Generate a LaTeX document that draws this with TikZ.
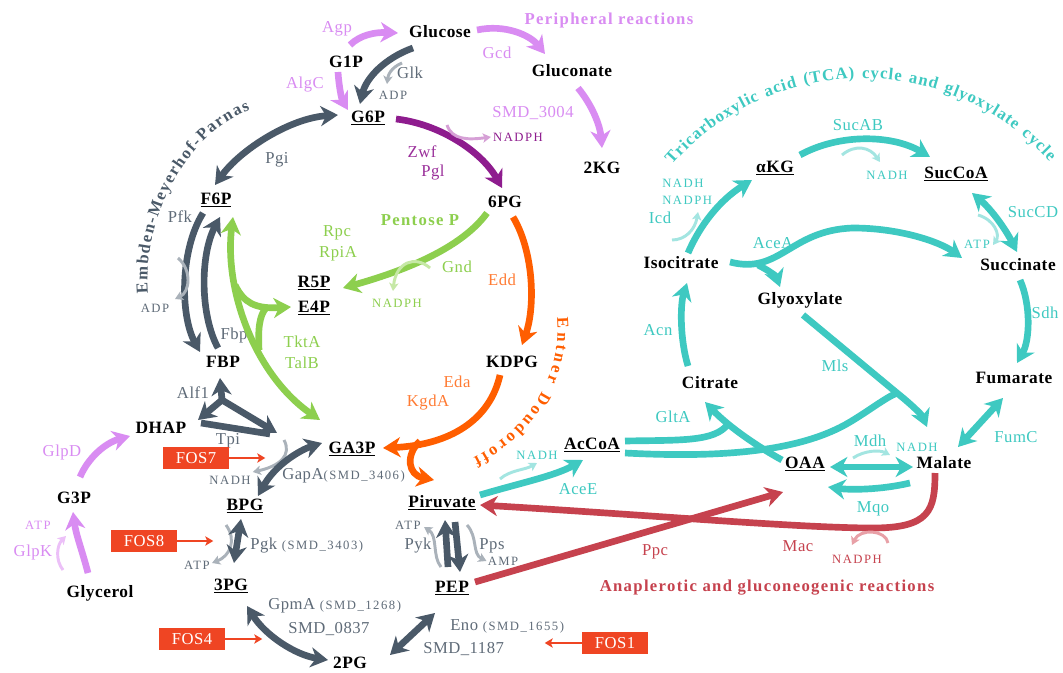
\documentclass[tikz,border=0pt]{standalone}
\usepackage{fontspec}
\setmainfont{Liberation Serif}
\newfontfamily\fmet[LetterSpace=3]{Liberation Serif}
\newfontfamily\fsm[LetterSpace=12]{Liberation Serif}
\newfontfamily\fttl[LetterSpace=8]{Liberation Serif}
\newcommand{\smfont}{\fsm\fontsize{9.5}{11}\selectfont}
\usetikzlibrary{arrows.meta,calc,decorations.text}
\definecolor{eg}{HTML}{4A5968}
\definecolor{egt}{HTML}{5F6B78}
\definecolor{egl}{HTML}{AAB2BA}
\definecolor{pl}{HTML}{D98CF2}
\definecolor{plf}{HTML}{ECC0F8}
\definecolor{dp}{HTML}{8E1C8E}
\definecolor{dpt}{HTML}{9A2E9A}
\definecolor{dpf}{HTML}{D6A0D6}
\definecolor{gr}{HTML}{8DCF4E}
\definecolor{grf}{HTML}{C6E8A6}
\definecolor{orr}{HTML}{FF5E00}
\definecolor{ort}{HTML}{FF7B33}
\definecolor{tl}{HTML}{3EC9C1}
\definecolor{tlf}{HTML}{A3E5E1}
\definecolor{rd}{HTML}{C6424E}
\definecolor{rdf}{HTML}{E8A0A7}
\definecolor{fos}{HTML}{EF4523}
\begin{document}
\begin{tikzpicture}[x=0.75pt,y=-0.75pt,
  met/.style={font=\fmet\fontsize{13}{15}\selectfont\bfseries, inner sep=0pt, text=black},
  enz/.style={font=\fmet\fontsize{12.5}{14}\selectfont, inner sep=0pt},
  sml/.style={font=\smfont, inner sep=0pt},
  ttl/.style={font=\fttl\fontsize{12.5}{14}\selectfont\bfseries, inner sep=0pt},
  arr/.style={line width=5pt, -{Stealth[length=13pt,width=15pt,inset=4pt]}},
  arrb/.style={line width=5pt, {Stealth[length=13pt,width=15pt,inset=4pt]}-{Stealth[length=13pt,width=15pt,inset=4pt]}},
  shaft/.style={line width=5pt},
  cof/.style={line width=2.2pt, -{Stealth[length=6pt,width=7pt,inset=1.5pt]}},
  fosbox/.style={fill=fos, text=white, font=\fmet\fontsize{12.5}{14}\selectfont, minimum width=49.5pt, minimum height=17pt, inner sep=0pt},
  fosarr/.style={draw=fos, line width=2.2pt, -{Stealth[length=6pt,width=7pt,inset=1.5pt]}}
]
\fill[white] (0,0) rectangle (1063,673);
\useasboundingbox (0,0) rectangle (1063,673);

% ---------- metabolites ----------
\node[met] (Glucose) at (440,32) {Glucose};
\node[met] (G1P) at (346,62) {G1P};
\node[met] (G6P) at (368,118) {\underline{G6P}};
\node[met] (Gluconate) at (572,71) {Gluconate};
\node[met] (KG2) at (602,168) {2KG};
\node[met] (PG6) at (505,202) {6PG};
\node[met] (F6P) at (216,200) {\underline{F6P}};
\node[met] (R5P) at (314,283) {\underline{R5P}};
\node[met] (E4P) at (314,308) {\underline{E4P}};
\node[met] (FBP) at (223,362) {FBP};
\node[met] (KDPG) at (512,362) {KDPG};
\node[met] (DHAP) at (161,428) {DHAP};
\node[met] (GA3P) at (352,449) {\underline{GA3P}};
\node[met] (G3P) at (74,498) {G3P};
\node[met] (BPG) at (245,506) {\underline{BPG}};
\node[met] (Pir) at (442,503) {\underline{Piruvate}};
\node[met] (AcCoA) at (592,445) {\underline{AcCoA}};
\node[met] (PG3) at (231,586) {\underline{3PG}};
\node[met] (PEP) at (452,588) {\underline{PEP}};
\node[met] (PG2) at (350,663) {2PG};
\node[met] (Glycerol) at (100,593) {Glycerol};
\node[met] (aKG) at (775,168) {\underline{αKG}};
\node[met] (SucCoA) at (956,174) {\underline{SucCoA}};
\node[met] (Isocitrate) at (681,263) {Isocitrate};
\node[met] (Succinate) at (1018,265) {Succinate};
\node[met] (Glyoxylate) at (800,300) {Glyoxylate};
\node[met] (Citrate) at (710,383) {Citrate};
\node[met] (Fumarate) at (1014,378) {Fumarate};
\node[met] (OAA) at (805,464) {\underline{OAA}};
\node[met] (Malate) at (944,463) {Malate};

% ---------- labels ----------
\node[enz,text=pl] (lAgp) at (337,29) {Agp};
\node[enz,text=pl] (lAlgC) at (305,85) {AlgC};
\node[enz,text=egt] (lGlk) at (410,73) {Glk};
\node[sml,text=egt] (cADP1) at (393,95) {ADP};
\node[enz,text=pl] (lGcd) at (497,53) {Gcd};
\node[enz,text=pl] (lSMD3004) at (533,113) {SMD\_3004};
\node[sml,text=dp] (cNADPH1) at (518,137) {NADPH};
\node[enz,text=dpt] (lZwf) at (422,152) {Zwf};
\node[enz,text=dpt] (lPgl) at (433,173) {Pgl};
\node[ttl,text=pl] (tPer) at (609,20) {Peripheral reactions};
\node[enz,text=egt] (lPgi) at (277,160) {Pgi};
\node[enz,text=egt] (lPfk) at (180,217) {Pfk};
\node[sml,text=egt] (cADP2) at (155,308) {ADP};
\node[enz,text=egt] (lFbp) at (234,335) {Fbp};
\node[enz,text=gr] (lRpc) at (337,233) {Rpc};
\node[enz,text=gr] (lRpiA) at (338,254) {RpiA};
\node[ttl,text=gr] (tPen) at (420,220) {Pentose P};
\node[enz,text=gr] (lGnd) at (457,267) {Gnd};
\node[sml,text=gr] (cNADPH2) at (397,303) {NADPH};
\node[enz,text=gr] (lTktA) at (302,342) {TktA};
\node[enz,text=gr] (lTalB) at (302,363) {TalB};
\node[enz,text=ort] (lEdd) at (502,280) {Edd};
\node[enz,text=ort] (lEda) at (457,382) {Eda};
\node[enz,text=ort] (lKgdA) at (428,403) {KgdA};
\node[enz,text=egt] (lAlf) at (193,393) {Alf1};
\node[enz,text=egt] (lTpi) at (228,441) {Tpi};
\node[enz,text=pl] (lGlpD) at (62,452) {GlpD};
\node[sml,text=egt] (cNADH1) at (230,480) {NADH};
\node[enz,text=egt,anchor=west] (lGapA) at (282,476) {GapA{\smfont(SMD\_3406)}};
\node[enz,text=egt,anchor=west] (lPgk) at (250,546) {Pgk {\smfont(SMD\_3403)}};
\node[sml,text=egt] (cATP1) at (197,565) {ATP};
\node[sml,text=pl] (cATP2) at (38,525) {ATP};
\node[enz,text=pl] (lGlpK) at (33,552) {GlpK};
\node[sml,text=egt] (cATP3) at (408,525) {ATP};
\node[enz,text=egt] (lPyk) at (418,546) {Pyk};
\node[enz,text=egt] (lPps) at (492,546) {Pps};
\node[sml,text=egt] (cAMP) at (503,561) {AMP};
\node[enz,text=egt,anchor=west] (lGpmA) at (268,606) {GpmA {\smfont(SMD\_1268)}};
\node[enz,text=egt,anchor=west] (lSMD0837) at (288,629) {SMD\_0837};
\node[enz,text=egt,anchor=west] (lEno) at (450,626) {Eno {\smfont(SMD\_1655)}};
\node[enz,text=egt,anchor=west] (lSMD1187) at (423,649) {SMD\_1187};
\node[sml,text=tl] (cNADH2) at (537,455) {NADH};
\node[enz,text=tl] (lAceE) at (578,489) {AceE};
\node[enz,text=rd] (lPpc) at (655,552) {Ppc};
\node[enz,text=rd] (lMac) at (798,546) {Mac};
\node[sml,text=rd] (cNADPH3) at (857,559) {NADPH};
\node[ttl,text=rd] (tAna) at (767,588) {Anaplerotic and gluconeogenic reactions};
\node[enz,text=tl] (lMdh) at (870,441) {Mdh};
\node[sml,text=tl] (cNADH3) at (917,447) {NADH};
\node[enz,text=tl] (lMqo) at (873,509) {Mqo};
\node[enz,text=tl] (lFumC) at (1016,437) {FumC};
\node[enz,text=tl] (lSdh) at (1045,313) {Sdh};
\node[enz,text=tl] (lMls) at (835,366) {Mls};
\node[enz,text=tl] (lGltA) at (673,417) {GltA};
\node[enz,text=tl] (lAcn) at (658,330) {Acn};
\node[enz,text=tl] (lAceA) at (773,243) {AceA};
\node[sml,text=tl] (cATP4) at (977,244) {ATP};
\node[enz,text=tl] (lSucCD) at (1033,212) {SucCD};
\node[enz,text=tl] (lSucAB) at (858,125) {SucAB};
\node[sml,text=tl] (cNADH4) at (887,175) {NADH};
\node[sml,text=tl,anchor=west] (cNADH5) at (662,183) {NADH};
\node[sml,text=tl,anchor=west] (cNADPH4) at (662,200) {NADPH};
\node[enz,text=tl] (lIcd) at (660,218) {Icd};

% ---------- curved titles ----------
\path[decorate,decoration={text along path,
  text={|\fttl\fontsize{12.5}{14}\selectfont\bfseries|Embden-Meyerhof-Parnas},
  text align={fit to path}, text color=eg}]
  (148,293) .. controls (142,220) and (185,135) .. (250,110);
\path[decorate,decoration={text along path,
  text={|\fttl\fontsize{12.5}{14}\selectfont\bfseries|Entner Doudoroff},
  text align={fit to path}, text color=orr}]
  (557,318) .. controls (562,372) and (532,428) .. (473,458);
\path[decorate,decoration={text along path,
  text={|\fttl\fontsize{12.5}{14}\selectfont\bfseries|Tricarboxylic acid (TCA) cycle and glyoxylate cycle},
  text align={fit to path}, text color=tl}]
  (672,165) arc[start angle=-139, end angle=-42, radius=252];

% ---------- peripheral (light purple) ----------
\draw[arr,pl] ($(G1P)+(4,-17)$) .. controls (360,35) and (375,32) .. ($(Glucose)+(-42,1)$);
\draw[arr,pl] ($(G1P)+(-8,10)$) .. controls (339,88) and (342,100) .. ($(G6P)+(-20,-8)$);
\draw[arr,pl] ($(Glucose)+(37,-2)$) .. controls (505,24) and (530,35) .. ($(Gluconate)+(-27,-17)$);
\draw[arr,pl] ($(Gluconate)+(6,17)$) .. controls (592,105) and (600,125) .. ($(KG2)+(0,-20)$);
\draw[arr,pl] ($(Glycerol)+(-12,-20)$) .. controls (82,550) and (76,535) .. ($(G3P)+(-1,14)$);
\draw[arr,pl] ($(G3P)+(6,-21)$) .. controls (88,458) and (105,443) .. ($(DHAP)+(-31,8)$);
\draw[cof,plf] ($(lGlpK)+(30,18)$) .. controls (55,560) and (57,545) .. ($(cATP2)+(28,11)$);

% ---------- oxidative / Zwf ----------
\draw[arr,dp] ($(G6P)+(28,1)$) .. controls (440,124) and (482,152) .. ($(PG6)+(-3,-14)$);
\draw[cof,dpf] ($(lSMD3004)+(-86,12)$) .. controls (452,140) and (468,140) .. ($(cNADPH1.west)+(-2,0)$);

% ---------- EMP (dark slate) ----------
\draw[arr,eg] ($(Glucose)+(-27,16)$) .. controls (385,58) and (366,78) .. ($(G6P)+(-8,-14)$);
\draw[cof,egl] ($(lGlk)+(-8,-10)$) .. controls (390,68) and (388,76) .. ($(cADP1)+(-6,-11)$);
\draw[arrb,eg] ($(G6P)+(-30,-3)$) .. controls (290,118) and (240,150) .. ($(F6P)+(-1,-15)$);
\draw[arr,eg] ($(F6P)+(-13,13)$) .. controls (180,250) and (180,315) .. ($(FBP)+(-23,-10)$);
\draw[arr,eg] ($(FBP)+(-5,-14)$) .. controls (200,315) and (200,255) .. ($(F6P)+(4,17)$);
\draw[cof,egl] ($(cADP2)+(23,-50)$) .. controls (192,270) and (190,292) .. ($(cADP2)+(20,-9)$);
\coordinate (ALF) at ($(FBP)+(-1,38)$);
\draw[shaft,eg] ($(DHAP)+(40,-5)$) -- ($(GA3P)+(-82,-15)$);
\draw[arr,eg] (ALF) -- ($(FBP)+(-3,16)$);
\draw[arr,eg] (ALF) -- ($(DHAP)+(37,-8)$);
\draw[arr,eg] (ALF) -- ($(GA3P)+(-75,-16)$);
\draw[cof,egl] ($(lGapA.west)+(2,-36)$) .. controls (292,455) and (280,466) .. ($(cNADH1.east)+(2,-8)$);
\draw[arrb,eg] ($(GA3P)+(-30,-6)$) .. controls (300,450) and (275,465) .. ($(BPG)+(13,-10)$);
\draw[cof,egl] ($(BPG)+(-19,19)$) .. controls (237,540) and (230,556) .. ($(cATP1.east)+(2,-2)$);
\draw[arrb,eg] ($(BPG)+(-4,13)$) -- ($(PG3)+(3,-23)$);
\draw[arrb,eg] ($(PG3)+(16,20)$) .. controls (265,635) and (295,655) .. ($(PG2)+(-22,-3)$);
\draw[arrb,eg] ($(PEP)+(-17,25)$) -- ($(PG2)+(40,-8)$);
\draw[cof,egl] ($(PEP)+(-11,-21)$) .. controls (432,556) and (438,536) .. ($(cATP3.east)+(3,2)$);
\draw[cof,egl] ($(Pir)+(25,22)$) .. controls (478,537) and (472,554) .. ($(cAMP.west)+(-1,0)$);
\draw[arr,eg] ($(PEP)+(-4,-21)$) -- ($(Pir)+(3,17)$);
\draw[arr,eg] ($(Pir)+(13,19)$) -- ($(PEP)+(8,-16)$);

% ---------- pentose phosphate (green) ----------
\draw[arr,gr] ($(PG6)+(-18,11)$) .. controls (460,250) and (400,272) .. ($(R5P)+(29,5)$);
\draw[cof,grf] ($(lGnd)+(-27,1)$) .. controls (415,255) and (396,262) .. ($(cNADPH2)+(-4,-12)$);
\draw[arrb,gr] ($(F6P)+(17,17)$) .. controls (224,290) and (255,375) .. ($(GA3P)+(-32,-29)$);
\draw[arr,gr] ($(F6P)+(19,85)$) .. controls (244,303) and (255,309) .. ($(E4P)+(-23,-1)$);
\draw[shaft,gr] ($(FBP)+(36,-12)$) .. controls (258,330) and (259,316) .. ($(E4P)+(-48,0)$);

% ---------- Entner-Doudoroff (orange) ----------
\draw[arr,orr] ($(PG6)+(8,15)$) .. controls (533,250) and (536,305) .. ($(KDPG)+(10,-17)$);
\draw[arr,orr] ($(KDPG)+(-12,13)$) .. controls (490,420) and (450,445) .. ($(GA3P)+(31,-1)$);
\draw[arr,orr] ($(KDPG)+(-92,79)$) .. controls (405,455) and (408,475) .. ($(Pir)+(-8,-23)$);

% ---------- TCA (teal) ----------
\draw[arr,tl] ($(Isocitrate)+(7,-10)$) .. controls (700,225) and (720,200) .. ($(aKG)+(-23,12)$);
\draw[cof,tlf] ($(lIcd)+(12,22)$) .. controls (685,240) and (695,230) .. ($(lIcd)+(38,-6)$);
\draw[arr,tl] ($(aKG)+(25,-13)$) .. controls (840,133) and (893,135) .. ($(SucCoA)+(-26,-17)$);
\draw[cof,tlf] ($(lSucAB)+(-16,30)$) .. controls (855,144) and (870,147) .. ($(cNADH4)+(-7,-13)$);
\draw[cof,tlf] ($(cATP4)+(1,-29)$) .. controls (995,220) and (1000,235) .. ($(cATP4)+(16,1)$);
\draw[arrb,tl] ($(SucCoA)+(16,19)$) .. controls (992,210) and (1006,230) .. ($(Succinate)+(-1,-13)$);
\draw[arr,tl] ($(Isocitrate)+(49,-1)$) .. controls (780,275) and (790,230) .. (853,228) .. controls (900,228) and (940,242) .. ($(Succinate)+(-56,-7)$);
\draw[arr,tl] ($(Glyoxylate)+(-42,-35)$) .. controls (768,270) and (776,276) .. ($(Glyoxylate)+(-20,-13)$);
\draw[arr,tl] ($(Succinate)+(2,15)$) .. controls (1031,305) and (1030,340) .. ($(Fumarate)+(3,-15)$);
\draw[arrb,tl] ($(Fumarate)+(-11,20)$) -- ($(Malate)+(14,-16)$);
\draw[arr,tl] ($(Citrate)+(-22,-17)$) .. controls (680,340) and (680,305) .. ($(Isocitrate)+(6,20)$);
\coordinate (MJ) at ($(Glyoxylate)+(97,93)$);
\draw[shaft,tl] ($(AcCoA)+(33,8)$) .. controls (720,458) and (800,452) .. (850,422) .. controls (870,410) and (885,398) .. (MJ);
\draw[arr,tl] ($(Glyoxylate)+(3,15)$) -- (MJ) .. controls (912,405) and (922,415) .. ($(Malate)+(-17,-36)$);
\coordinate (GJ) at ($(Citrate)+(18,41)$);
\draw[shaft,tl] ($(AcCoA)+(33,-4)$) .. controls (680,440) and (715,442) .. (GJ);
\draw[arr,tl] ($(OAA)+(-23,-4)$) .. controls (760,448) and (730,428) .. ($(Citrate)+(-5,19)$);
\draw[cof,tlf] ($(Pir)+(58,-24)$) .. controls (510,470) and (525,470) .. ($(cNADH2)+(0,8)$);
\draw[arr,tl] ($(Pir)+(38,-8)$) .. controls (520,483) and (555,476) .. ($(AcCoA)+(-9,15)$);
\draw[cof,tlf] ($(lMdh)+(-17,17)$) .. controls (865,450) and (880,450) .. ($(cNADH3)+(-27,8)$);
\draw[arrb,tl] ($(OAA)+(25,3)$) -- ($(Malate)+(-31,4)$);
\draw[arr,tl] ($(Malate)+(-34,20)$) .. controls (880,490) and (850,490) .. ($(OAA)+(23,23)$);

% ---------- anaplerotic (red) ----------
\draw[arr,rd] ($(PEP)+(23,-6)$) -- ($(OAA)+(-22,28)$);
\draw[arr,rd] ($(Malate)+(-9,10)$) .. controls (935,510) and (930,528) .. (873,528) .. controls (800,528) and (650,515) .. ($(Pir)+(38,2)$);
\draw[cof,rdf] ($(cNADPH3)+(31,-16)$) .. controls (886,530) and (860,528) .. ($(cNADPH3)+(-5,-14)$);

% ---------- FOS boxes ----------
\node[fosbox] (FOS7) at (196,458) {FOS7};
\node[fosbox] (FOS8) at (144,541) {FOS8};
\node[fosbox] (FOS4) at (192,639) {FOS4};
\node[fosbox] (FOS1) at (615,643) {FOS1};
\draw[fosarr] (FOS7.east) -- ($(FOS7.east)+(36,0)$);
\draw[fosarr] (FOS8.east) -- ($(FOS8.east)+(36,0)$);
\draw[fosarr] (FOS4.east) -- ($(FOS4.east)+(37,0)$);
\draw[fosarr] (FOS1.west) -- ($(FOS1.west)+(-37,0)$);
\end{tikzpicture}
\end{document}
